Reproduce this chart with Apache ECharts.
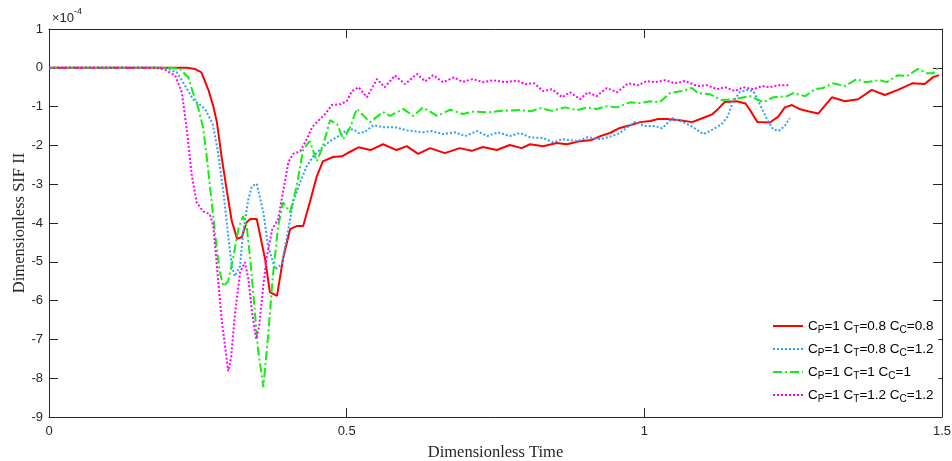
<!DOCTYPE html>
<html>
<head>
<meta charset="utf-8">
<script src="https://cdn.jsdelivr.net/npm/echarts@6/dist/echarts.min.js"></script>
<style>
  html, body { margin: 0; padding: 0; background: #ffffff; }
  #chart { width: 952px; height: 461px; }
</style>
</head>
<body>
<div id="chart"></div>
<script>
// Dimensionless SIF II (units of 1e-4) against dimensionless time, [t, value]
const curveCT08CC08 = [
  [0, 0], [0.2, 0], [0.232, 0], [0.245, -0.03], [0.256, -0.12], [0.268, -0.58], [0.276, -0.99],
  [0.282, -1.4], [0.29, -2.3], [0.299, -3.2], [0.307, -3.95], [0.316, -4.41], [0.324, -4.36],
  [0.332, -3.98], [0.338, -3.9], [0.349, -3.9], [0.363, -4.93], [0.371, -5.78], [0.383, -5.88],
  [0.393, -4.93], [0.405, -4.16], [0.416, -4.08], [0.427, -4.08], [0.438, -3.47], [0.45, -2.79],
  [0.46, -2.41], [0.477, -2.3], [0.492, -2.28], [0.505, -2.17], [0.52, -2.05], [0.54, -2.12],
  [0.561, -1.97], [0.584, -2.12], [0.601, -2.02], [0.62, -2.22], [0.64, -2.07], [0.665, -2.2],
  [0.69, -2.07], [0.71, -2.14], [0.729, -2.04], [0.752, -2.12], [0.774, -1.99], [0.794, -2.07],
  [0.808, -1.97], [0.83, -2.02], [0.853, -1.94], [0.87, -1.97], [0.892, -1.89], [0.912, -1.86],
  [0.926, -1.76], [0.942, -1.68], [0.959, -1.55], [0.976, -1.48], [0.993, -1.4], [1.01, -1.37],
  [1.023, -1.32], [1.038, -1.32], [1.06, -1.35], [1.08, -1.4], [1.094, -1.32], [1.114, -1.2],
  [1.124, -1.06], [1.135, -0.88], [1.155, -0.86], [1.17, -0.92], [1.18, -1.15], [1.19, -1.4],
  [1.211, -1.41], [1.225, -1.26], [1.236, -1.02], [1.248, -0.96], [1.262, -1.07], [1.275, -1.12],
  [1.292, -1.18], [1.315, -0.76], [1.337, -0.86], [1.359, -0.81], [1.382, -0.57], [1.404, -0.7],
  [1.426, -0.57], [1.45, -0.4], [1.471, -0.42], [1.485, -0.24], [1.495, -0.19]
];
const curveCT08CC12 = [
  [0, 0], [0.19, 0], [0.2, -0.02], [0.215, -0.12], [0.225, -0.37], [0.242, -0.81], [0.262, -1.06],
  [0.275, -1.45], [0.284, -2.18], [0.293, -3.21], [0.301, -4.33], [0.307, -5.11], [0.312, -5.37],
  [0.321, -5.11], [0.326, -4.24], [0.335, -3.38], [0.341, -3.05], [0.349, -2.99], [0.36, -3.72],
  [0.368, -4.59], [0.38, -5.19], [0.391, -5.06], [0.4, -4.33], [0.41, -3.47], [0.422, -2.95],
  [0.433, -2.53], [0.444, -2.28], [0.459, -2.05], [0.472, -1.89], [0.486, -1.76], [0.5, -1.61],
  [0.511, -1.58], [0.52, -1.68], [0.53, -1.66], [0.545, -1.48], [0.561, -1.53], [0.581, -1.53],
  [0.601, -1.61], [0.628, -1.66], [0.643, -1.63], [0.662, -1.71], [0.682, -1.66], [0.699, -1.76],
  [0.719, -1.63], [0.736, -1.76], [0.754, -1.66], [0.774, -1.76], [0.791, -1.68], [0.808, -1.79],
  [0.83, -1.81], [0.847, -1.92], [0.863, -1.84], [0.887, -1.89], [0.905, -1.79], [0.926, -1.84],
  [0.946, -1.76], [0.959, -1.68], [0.976, -1.48], [0.984, -1.4], [1.001, -1.5], [1.018, -1.5],
  [1.03, -1.56], [1.047, -1.3], [1.057, -1.35], [1.072, -1.45], [1.082, -1.53], [1.099, -1.71],
  [1.116, -1.58], [1.13, -1.45], [1.14, -1.25], [1.149, -0.88], [1.16, -0.63], [1.172, -0.57],
  [1.183, -0.6], [1.194, -0.94], [1.206, -1.32], [1.216, -1.58], [1.225, -1.63], [1.236, -1.5],
  [1.244, -1.3]
];
const curveCT1CC1 = [
  [0, 0], [0.205, 0], [0.22, -0.03], [0.234, -0.25], [0.242, -0.65], [0.25, -1.0], [0.259, -1.55],
  [0.265, -2.3], [0.27, -3.0], [0.276, -3.85], [0.282, -4.68], [0.287, -5.27], [0.293, -5.63],
  [0.301, -5.5], [0.309, -4.93], [0.318, -4.16], [0.326, -3.82], [0.332, -4.08], [0.338, -4.93],
  [0.343, -5.78], [0.351, -7.25], [0.36, -8.23], [0.368, -6.92], [0.376, -5.37], [0.385, -4.08],
  [0.393, -3.47], [0.405, -3.72], [0.416, -3.05], [0.427, -2.1], [0.438, -1.89], [0.45, -2.41],
  [0.46, -2.02], [0.472, -1.35], [0.484, -1.45], [0.494, -1.84], [0.506, -1.53], [0.517, -1.06],
  [0.539, -1.4], [0.561, -1.14], [0.573, -1.24], [0.595, -1.06], [0.612, -1.24], [0.628, -1.02],
  [0.652, -1.24], [0.674, -1.08], [0.695, -1.19], [0.712, -1.13], [0.736, -1.15], [0.76, -1.11],
  [0.791, -1.09], [0.81, -1.12], [0.825, -1.04], [0.845, -1.11], [0.867, -1.02], [0.887, -1.09],
  [0.905, -1.02], [0.92, -1.06], [0.937, -0.99], [0.954, -1.02], [0.976, -0.89], [0.993, -0.91],
  [1.01, -0.86], [1.026, -0.89], [1.043, -0.65], [1.063, -0.6], [1.08, -0.52], [1.09, -0.65],
  [1.11, -0.68], [1.13, -0.83], [1.149, -0.81], [1.178, -0.73], [1.2, -0.89], [1.216, -0.76],
  [1.24, -0.73], [1.25, -0.65], [1.27, -0.73], [1.287, -0.55], [1.3, -0.52], [1.317, -0.4],
  [1.337, -0.47], [1.357, -0.29], [1.371, -0.37], [1.396, -0.32], [1.407, -0.37], [1.426, -0.19],
  [1.441, -0.21], [1.46, -0.03], [1.475, -0.14], [1.485, -0.14], [1.495, 0.02]
];
const curveCT12CC12 = [
  [0, 0], [0.18, 0], [0.195, -0.05], [0.212, -0.2], [0.223, -0.63], [0.232, -1.66], [0.24, -2.79],
  [0.248, -3.47], [0.259, -3.7], [0.27, -3.77], [0.276, -4.08], [0.282, -5.11], [0.29, -6.48],
  [0.301, -7.82], [0.306, -7.45], [0.312, -6.4], [0.321, -5.27], [0.329, -5.01], [0.335, -5.45],
  [0.341, -6.3], [0.348, -6.99], [0.353, -6.66], [0.36, -5.6], [0.366, -4.85], [0.375, -4.16],
  [0.385, -3.9], [0.393, -3.21], [0.402, -2.44], [0.41, -2.22], [0.422, -2.15], [0.433, -1.84],
  [0.442, -1.53], [0.452, -1.37], [0.464, -1.19], [0.475, -0.96], [0.489, -0.94], [0.5, -0.86],
  [0.509, -0.6], [0.52, -0.5], [0.534, -0.76], [0.551, -0.29], [0.564, -0.5], [0.581, -0.2],
  [0.598, -0.42], [0.618, -0.16], [0.632, -0.35], [0.645, -0.19], [0.662, -0.37], [0.68, -0.25],
  [0.695, -0.36], [0.712, -0.29], [0.729, -0.37], [0.746, -0.32], [0.766, -0.37], [0.786, -0.33],
  [0.8, -0.42], [0.815, -0.4], [0.83, -0.6], [0.845, -0.55], [0.862, -0.76], [0.875, -0.63],
  [0.892, -0.81], [0.905, -0.63], [0.92, -0.73], [0.937, -0.52], [0.954, -0.63], [0.973, -0.4],
  [0.99, -0.45], [1.004, -0.34], [1.018, -0.37], [1.035, -0.32], [1.052, -0.4], [1.068, -0.34],
  [1.089, -0.47], [1.105, -0.45], [1.122, -0.55], [1.136, -0.5], [1.152, -0.6], [1.166, -0.5],
  [1.183, -0.55], [1.198, -0.47], [1.211, -0.5], [1.225, -0.45], [1.243, -0.45]
];

// Legend entries: [coefficient P, coefficient T, coefficient C]
const legendCoeffs = [
  ['1', '0.8', '0.8'],
  ['1', '0.8', '1.2'],
  ['1', '1', '1'],
  ['1', '1.2', '1.2']
];
const xTicks = [0, 0.5, 1, 1.5];
const yTicks = [-9, -8, -7, -6, -5, -4, -3, -2, -1, 0, 1];

const seriesNames = legendCoeffs.map(c => 'CP=' + c[0] + ' CT=' + c[1] + ' CC=' + c[2]);
const legendRich = {};
legendCoeffs.forEach((c, i) => { legendRich[seriesNames[i]] = c; });

const axisColor = '#262626';
const labelFont = 'Liberation Sans, Arial, sans-serif';
const titleFont = 'Liberation Serif, Times New Roman, serif';

const chart = echarts.init(document.getElementById('chart'), null, { renderer: 'canvas' });

function lineSeries(name, data, color, type, width) {
  return {
    name: name,
    type: 'line',
    data: data,
    showSymbol: false,
    symbol: 'none',
    smooth: false,
    animation: false,
    lineStyle: { color: color, width: width, type: type },
    itemStyle: { color: color },
    emphasis: { disabled: true },
    z: 3
  };
}

const commonX = {
  type: 'value', min: 0, max: 1.5, interval: 0.5,
  axisLine: { show: true, onZero: false, lineStyle: { color: axisColor, width: 1 } },
  axisTick: { show: true, inside: true, length: 9, lineStyle: { color: axisColor } },
  splitLine: { show: false }
};
const commonY = {
  type: 'value', min: -9, max: 1, interval: 1,
  axisLine: { show: true, onZero: false, lineStyle: { color: axisColor, width: 1 } },
  axisTick: { show: true, inside: true, length: 9, lineStyle: { color: axisColor } },
  splitLine: { show: false }
};

chart.setOption({
  backgroundColor: '#ffffff',
  animation: false,
  grid: { left: 49, right: 10, top: 29, bottom: 44, containLabel: false, outerBoundsMode: 'none' },
  xAxis: [
    Object.assign({}, commonX, {
      position: 'bottom',
      name: 'Dimensionless Time',
      nameLocation: 'middle',
      nameGap: 27,
      nameMoveOverlap: false,
      nameTextStyle: { fontFamily: titleFont, fontSize: 16.5, color: axisColor },
      axisLabel: {
        show: true, margin: 8, fontFamily: labelFont, fontSize: 13, color: axisColor,
        formatter: v => (xTicks.indexOf(v) >= 0 ? String(v) : '')
      }
    }),
    Object.assign({}, commonX, { position: 'top', axisLabel: { show: false } })
  ],
  yAxis: [
    Object.assign({}, commonY, {
      position: 'left',
      name: 'Dimensionless SIF II',
      nameLocation: 'middle',
      nameGap: 21,
      nameMoveOverlap: false,
      nameTextStyle: { fontFamily: titleFont, fontSize: 16.5, color: axisColor },
      axisLabel: {
        show: true, margin: 6, fontFamily: labelFont, fontSize: 13, color: axisColor,
        formatter: v => (yTicks.indexOf(v) >= 0 ? String(v) : '')
      }
    }),
    Object.assign({}, commonY, { position: 'right', axisLabel: { show: false } })
  ],
  legend: {
    show: true,
    orient: 'vertical',
    left: 767,
    top: 314,
    itemWidth: 30,
    itemHeight: 14,
    itemGap: 7,
    selectedMode: false,
    itemStyle: { opacity: 0, borderWidth: 0 },
    backgroundColor: 'rgba(255,255,255,1)',
    data: seriesNames,
    formatter: name => {
      const c = legendRich[name];
      return '{n|C}{s|P}{n|=' + c[0] + ' C}{s|T}{n|=' + c[1] + ' C}{s|C}{n|=' + c[2] + '}';
    },
    textStyle: {
      fontFamily: labelFont,
      color: '#000000',
      rich: {
        n: { fontFamily: labelFont, fontSize: 13.5, lineHeight: 18, verticalAlign: 'middle', color: '#000000' },
        s: { fontFamily: labelFont, fontSize: 10, lineHeight: 10, verticalAlign: 'bottom', color: '#000000' }
      }
    }
  },
  graphic: [
    {
      type: 'text',
      left: 52,
      top: 7,
      style: {
        text: '{m|\u00d710}{e|-4}',
        rich: {
          m: { fontFamily: labelFont, fontSize: 13, lineHeight: 18, verticalAlign: 'bottom', fill: axisColor },
          e: { fontFamily: labelFont, fontSize: 9, lineHeight: 10, verticalAlign: 'top', fill: axisColor }
        }
      }
    }
  ],
  series: [
    lineSeries(seriesNames[0], curveCT08CC08, '#ff0000', 'solid', 2),
    lineSeries(seriesNames[1], curveCT08CC12, '#2f9fff', [2, 2], 2),
    lineSeries(seriesNames[2], curveCT1CC1, '#11ee11', [9, 3, 2, 3], 2),
    lineSeries(seriesNames[3], curveCT12CC12, '#ff00ff', [2, 2], 2)
  ]
});
</script>
</body>
</html>
